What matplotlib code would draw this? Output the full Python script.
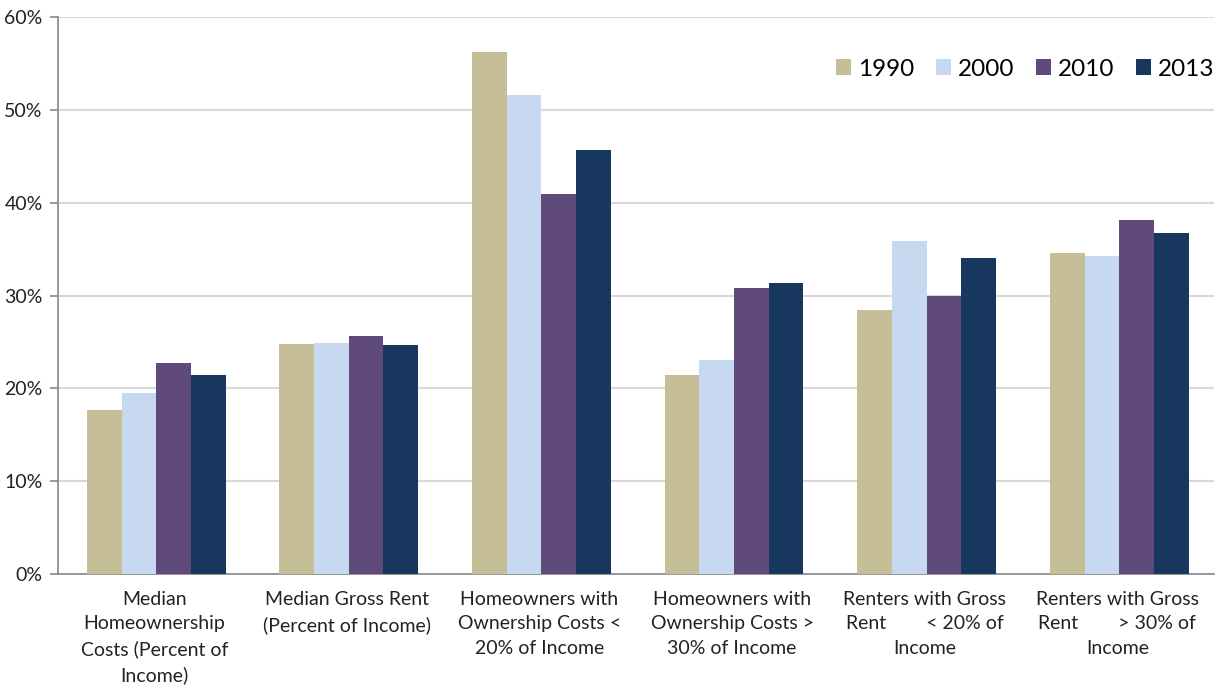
import matplotlib.pyplot as plt
import numpy as np

plt.rcParams['font.family'] = ['Lato', 'DejaVu Sans']

categories = ['Median\nHomeownership\nCosts (Percent of\nIncome)',
              'Median Gross Rent\n(Percent of Income)',
              'Homeowners with\nOwnership Costs <\n20% of Income',
              'Homeowners with\nOwnership Costs >\n30% of Income',
              'Renters with Gross\nRent        < 20% of\nIncome',
              'Renters with Gross\nRent        > 30% of\nIncome']
years = ['1990', '2000', '2010', '2013']
v1990 = [17.7, 24.8, 56.3, 21.4, 28.4, 34.6]
v2000 = [19.5, 24.9, 51.6, 23.1, 35.9, 34.3]
v2010 = [22.7, 25.6, 40.9, 30.8, 30.0, 38.1]
v2013 = [21.4, 24.7, 45.7, 31.4, 34.1, 36.7]
colors = ['#C5BE97', '#C6D9F0', '#604A7B', '#17375E']

fig = plt.figure(figsize=(12.16, 6.88), dpi=100)
ax = fig.add_axes([0.0477, 0.1657, 0.9503, 0.8093])

x = np.arange(len(categories))
w = 0.18
for i, vals in enumerate([v1990, v2000, v2010, v2013]):
    ax.bar(x + (i - 1.5) * w + 0.01, vals, w, color=colors[i], label=years[i], zorder=3)

ax.set_xlim(-0.5, len(categories) - 0.5)
ax.set_ylim(0, 60)
ax.set_yticks(range(0, 61, 10))
ax.set_yticklabels([f'{t}%' for t in range(0, 61, 10)], fontsize=14, color='#222222')
ax.yaxis.grid(True, color='#D9D9D9', linewidth=1.5, zorder=0)
ax.set_xticks(x)
ax.set_xticklabels(categories, fontsize=14, color='#222222', linespacing=1.55)
ax.tick_params(axis='x', length=0, pad=12)
ax.tick_params(axis='y', length=6, color='#888888', width=1.2, pad=5)
for s in ['top', 'right']:
    ax.spines[s].set_visible(False)
ax.spines['left'].set_color('#888888')
ax.spines['bottom'].set_color('#888888')
ax.spines['left'].set_linewidth(1.2)
ax.spines['bottom'].set_linewidth(1.2)

ax.legend(loc='upper right', bbox_to_anchor=(1.02, 0.965), ncol=4, frameon=False,
          fontsize=17.5, handlelength=0.6, handleheight=0.6, handletextpad=0.3,
          columnspacing=0.9)

fig.savefig('out.png', dpi=100)
